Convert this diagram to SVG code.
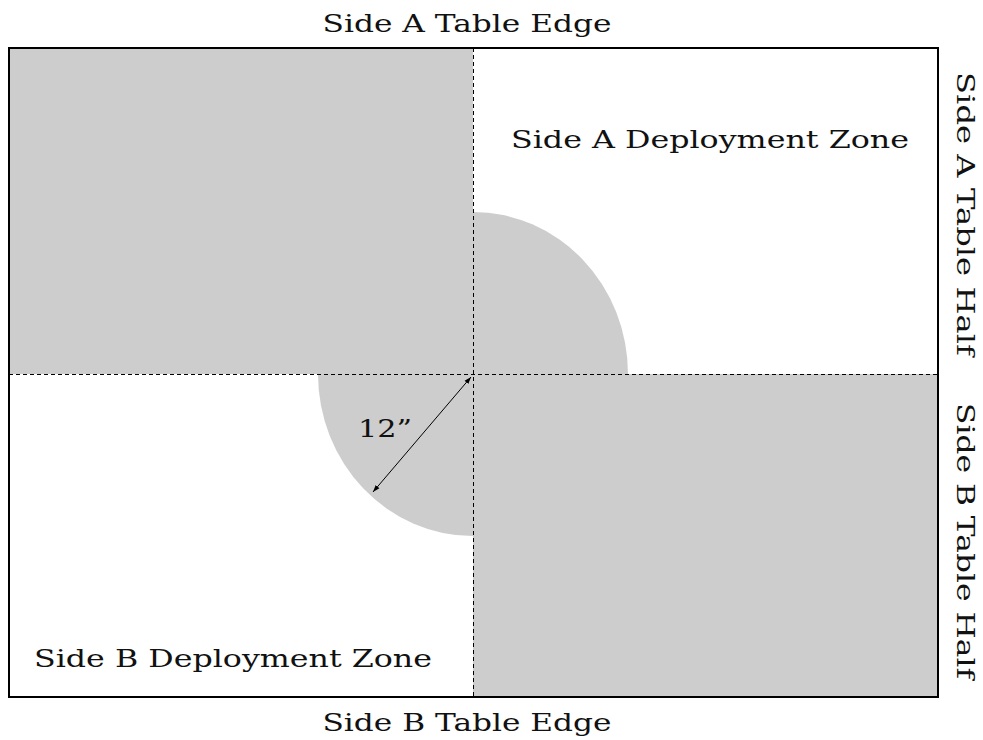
<svg xmlns="http://www.w3.org/2000/svg" width="983" height="740" viewBox="0 0 983 740">
<style>
.zone{fill:#cdcdcd;stroke:none}
.dash{stroke:#000;stroke-width:1;stroke-dasharray:4 3;fill:none}
.lbl{font-family:"DejaVu Serif","Liberation Serif",serif;font-size:25px;fill:#111}
</style>
<defs>
<marker id="ah" viewBox="0 0 10 10" refX="10" refY="5" markerWidth="7" markerHeight="7" orient="auto-start-reverse" markerUnits="userSpaceOnUse">
<path d="M0,1.5 L10,5 L0,8.5 Z" fill="#000"/>
</marker>
</defs>
<rect width="983" height="740" fill="#fff"/>
<g id="zones">
<rect class="zone" x="9" y="48" width="464" height="326"/>
<rect class="zone" x="473" y="374" width="465" height="323"/>
<path class="zone" d="M473,374 L473,212 A155,162 0 0 1 628,374 Z"/>
<path class="zone" d="M473,374 L318,374 A155,162 0 0 0 473,536 Z"/>
</g>
<g id="connectors">
<line class="dash" x1="473.5" y1="48" x2="473.5" y2="697"/>
<line class="dash" x1="9" y1="374.5" x2="938" y2="374.5"/>
<line x1="471" y1="377" x2="373" y2="492" stroke="#000" stroke-width="1" marker-start="url(#ah)" marker-end="url(#ah)"/>
</g>
<g id="table">
<rect x="9" y="48" width="929" height="649" fill="none" stroke="#000" stroke-width="2"/>
</g>
<g id="labels">
<text class="lbl" x="467" y="32" text-anchor="middle" textLength="289" lengthAdjust="spacingAndGlyphs">Side A Table Edge</text>
<text class="lbl" x="467" y="731" text-anchor="middle" textLength="289" lengthAdjust="spacingAndGlyphs">Side B Table Edge</text>
<text class="lbl" x="511" y="148" textLength="398" lengthAdjust="spacingAndGlyphs">Side A Deployment Zone</text>
<text class="lbl" x="34" y="667" textLength="398" lengthAdjust="spacingAndGlyphs">Side B Deployment Zone</text>
<text class="lbl" x="358" y="437" textLength="54" lengthAdjust="spacingAndGlyphs">12”</text>
<text class="lbl" transform="translate(957,72) rotate(90)" textLength="284" lengthAdjust="spacingAndGlyphs">Side A Table Half</text>
<text class="lbl" transform="translate(957,403) rotate(90)" textLength="276" lengthAdjust="spacingAndGlyphs">Side B Table Half</text>
</g>
</svg>
